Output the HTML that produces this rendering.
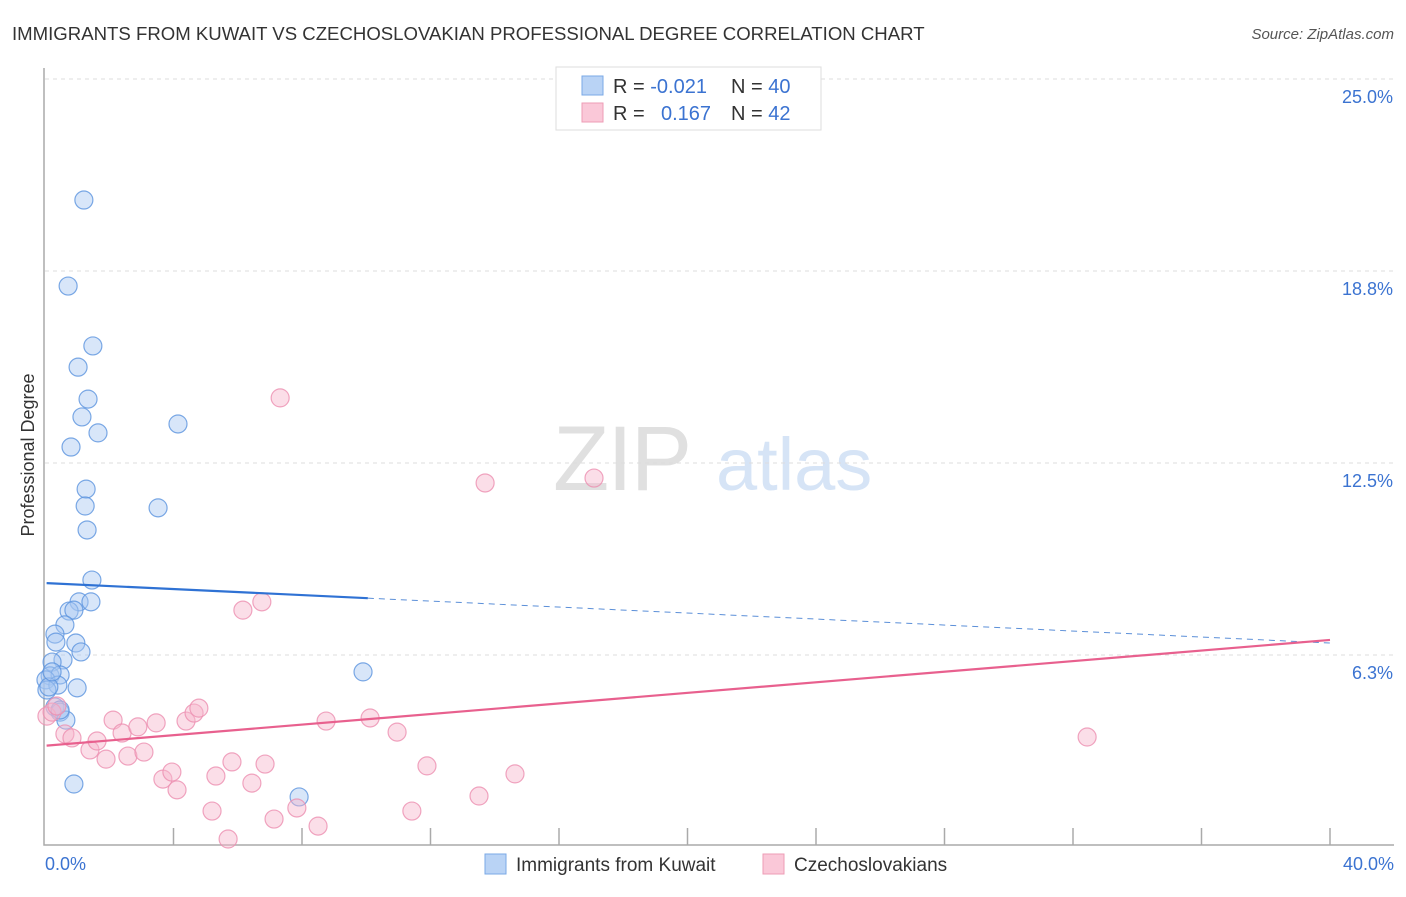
<!DOCTYPE html>
<html><head><meta charset="utf-8"><style>
body{margin:0;background:#fff;font-family:"Liberation Sans",sans-serif}
svg text{font-family:"Liberation Sans",sans-serif}
</style></head><body>
<svg width="1406" height="892" viewBox="0 0 1406 892">
<text x="12" y="40" font-size="18.6" fill="#333">IMMIGRANTS FROM KUWAIT VS CZECHOSLOVAKIAN PROFESSIONAL DEGREE CORRELATION CHART</text>
<text x="1394" y="39" font-size="15" fill="#555" font-style="italic" text-anchor="end">Source: ZipAtlas.com</text>
<g>
<text x="553" y="490" font-size="92" fill="#e0e0e0" font-family="Liberation Serif" letter-spacing="-2">ZIP</text>
<text x="716" y="490" font-size="74" fill="#d6e4f6">atlas</text>
</g>
<g id="grid"></g>
<g id="axes"></g>
<g id="marks"></g>
<g>
<rect x="556" y="67" width="265" height="63" fill="#fff" stroke="#ddd"/>
<rect x="582" y="76" width="21" height="19" fill="#b9d3f5" stroke="#7aa8e6"/>
<rect x="582" y="103" width="21" height="19" fill="#fac8d8" stroke="#ee9cb6"/>
<text x="613" y="93" font-size="20" fill="#333">R = <tspan fill="#3b73d1">-0.021</tspan></text>
<text x="731" y="93" font-size="20" fill="#333">N = <tspan fill="#3b73d1">40</tspan></text>
<text x="613" y="120" font-size="20" fill="#333">R = </text>
<text x="661" y="120" font-size="20" fill="#3b73d1">0.167</text>
<text x="731" y="120" font-size="20" fill="#333">N = <tspan fill="#3b73d1">42</tspan></text>
</g>
<g>
<rect x="485" y="854" width="21" height="20" fill="#b9d3f5" stroke="#7aa8e6"/>
<text x="516" y="871" font-size="19" fill="#333">Immigrants from Kuwait</text>
<rect x="763" y="854" width="21" height="20" fill="#fac8d8" stroke="#ee9cb6"/>
<text x="794" y="871" font-size="19" fill="#333">Czechoslovakians</text>
</g>
<text transform="translate(34,455) rotate(-90)" font-size="18" fill="#333" text-anchor="middle">Professional Degree</text>
</svg>
<script>
const blueX=[1.21,0.72,1.49,1.03,1.34,1.15,1.65,0.81,4.14,1.28,1.25,1.31,3.52,1.46,1.06,1.43,0.75,0.90,0.62,0.31,0.34,0.96,1.12,0.56,0.22,0.16,0.47,0.03,0.40,1.00,0.06,9.90,0.31,0.47,0.65,0.90,7.91,0.12,0.22,0.47];
const blueY=[21.06,18.26,16.31,15.62,14.58,14.00,13.48,13.02,13.77,11.65,11.10,10.32,11.04,8.69,7.98,7.98,7.68,7.71,7.23,6.93,6.67,6.64,6.35,6.09,6.02,5.57,5.60,5.44,5.27,5.18,5.11,5.70,4.56,4.39,4.13,2.05,1.63,5.21,5.70,4.46];
const pinkX=[7.32,13.70,17.09,6.16,6.75,0.06,0.22,0.37,0.62,0.84,1.40,1.62,1.90,2.12,2.40,2.58,2.89,3.08,3.46,3.67,3.95,4.11,4.39,4.64,4.79,5.20,5.32,5.70,5.82,6.44,6.85,7.13,7.84,8.50,8.75,10.12,10.96,11.42,11.89,13.51,14.63,32.44];
const pinkY=[14.62,11.85,12.01,7.71,7.98,4.26,4.39,4.59,3.68,3.55,3.16,3.45,2.86,4.13,3.71,2.96,3.91,3.09,4.04,2.21,2.44,1.86,4.10,4.36,4.52,1.17,2.31,0.26,2.77,2.08,2.70,0.91,1.27,0.68,4.10,4.20,3.74,1.17,2.64,1.66,2.38,3.58];
const blueTrend=[8.59,6.64];
const blueSolidEnd=10.05;
const pinkTrend=[3.30,6.74];
const yTicks=[6.25,12.5,18.75,25];
const yTickLabels=["6.3%","12.5%","18.8%","25.0%"];
const xLabels=["0.0%","40.0%"];
const NS="http://www.w3.org/2000/svg";
const sx=v=>45+v*32.125, sy=v=>847-v*30.72;
function mk(tag,attrs,parent){const e=document.createElementNS(NS,tag);for(const k in attrs)e.setAttribute(k,attrs[k]);document.getElementById(parent).appendChild(e);return e;}
yTicks.forEach((t,i)=>{
 const l=mk('line',{x1:45,x2:1394,y1:sy(t),y2:sy(t),stroke:'#ddd','stroke-dasharray':'4,4'},'grid');
 
 
 const tx=mk('text',{x:1393,y:sy(t)+24,'font-size':18,fill:'#3b73d1','text-anchor':'end'},'axes');
 tx.textContent=yTickLabels[i];
 
 
});
const ax=mk('path',{d:'M44,68 V845 H1394',fill:'none',stroke:'#aaa','stroke-width':1.5},'axes');


for(let i=1;i<=10;i++){const t=mk('line',{x1:sx(i*4),x2:sx(i*4),y1:828,y2:845,stroke:'#aaa','stroke-width':1.5},'axes');
 
 }
[[0,45,'start'],[40,1394,'end']].forEach((d,i)=>{const t=mk('text',{x:d[1],y:870,'font-size':18,fill:'#3b73d1','text-anchor':d[2]},'axes');t.textContent=xLabels[i];
 
 });
function pts(X,Y,fill,stroke,name){X.forEach((x,i)=>{const c=mk('circle',{cx:sx(x),cy:sy(Y[i]),r:9,fill:fill,'fill-opacity':0.45,stroke:stroke,'stroke-opacity':0.8,'stroke-width':1.2},'marks');
 
 });}
pts(blueX,blueY,'#a8c8f2','#5b93de','kuwait-point');
pts(pinkX,pinkY,'#f7b6cb','#ec8fb0','czech-point');
let t1=mk('line',{x1:sx(0.05),y1:sy(blueTrend[0]),x2:sx(blueSolidEnd),y2:sy(blueTrend[0]+(blueTrend[1]-blueTrend[0])*blueSolidEnd/40),stroke:'#2f72d4','stroke-width':2.2},'marks');


let t2=mk('line',{x1:sx(blueSolidEnd),y1:sy(blueTrend[0]+(blueTrend[1]-blueTrend[0])*blueSolidEnd/40),x2:sx(40),y2:sy(blueTrend[1]),stroke:'#5b8fd8','stroke-width':1,'stroke-dasharray':'6,5'},'marks');


let t3=mk('line',{x1:sx(0.05),y1:sy(pinkTrend[0]),x2:sx(40),y2:sy(pinkTrend[1]),stroke:'#e8608e','stroke-width':2.2},'marks');


</script>
</body></html>
